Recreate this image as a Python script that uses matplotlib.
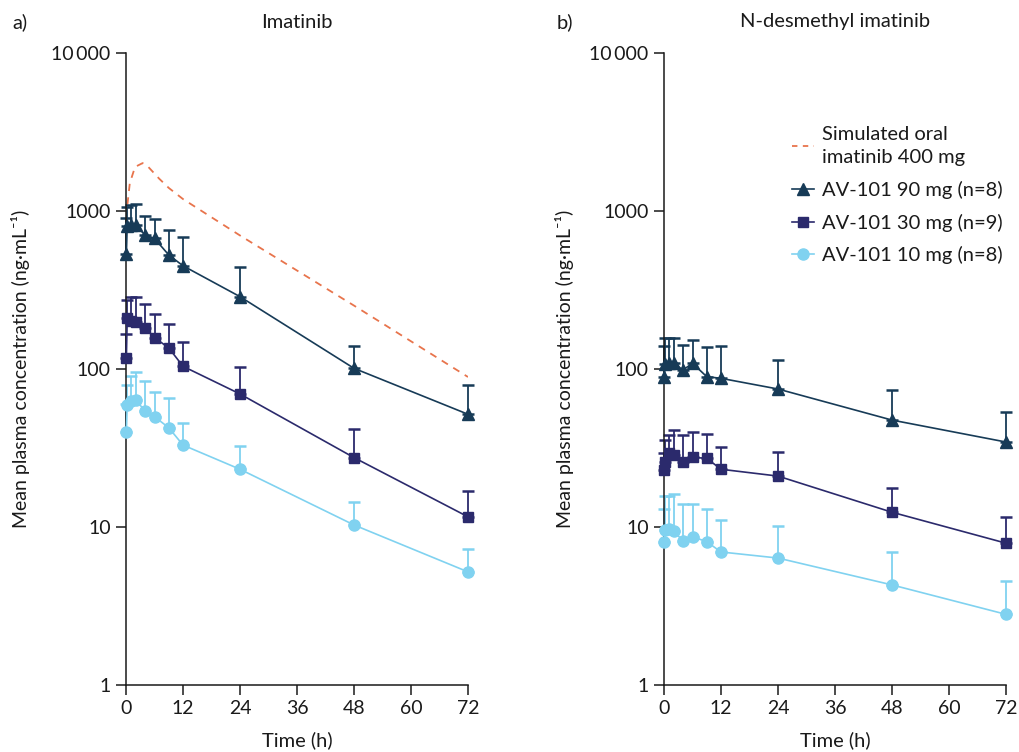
import matplotlib
matplotlib.use("Agg")
import matplotlib.pyplot as plt
from matplotlib.lines import Line2D
import numpy as np

plt.rcParams['font.family'] = ['Lato', 'DejaVu Sans']

# ---------------- data ----------------
times = [0.08, 0.25, 1, 2, 4, 6, 9, 12, 24, 48, 72]

# Imatinib (panel a)
ima_90_mean = [534, 807, 820, 815, 705, 670, 527, 450, 287, 101, 51.7]
ima_90_upper = [900, 1064, 1090, 1106, 930, 888, 758, 682, 444, 140, 79]
ima_30_mean = [118, 209, 202, 198, 183, 158, 136, 104, 69.5, 27.5, 11.6]
ima_30_upper = [167, 273, 286, 286, 257, 222, 192, 149, 102.5, 41.7, 17]
ima_10_mean = [39.7, 59.2, 63, 63.6, 54.5, 49.9, 42.5, 33, 23.2, 10.3, 5.2]
ima_10_upper = [60, 79.2, 90.7, 96, 84, 71.8, 65.8, 45.7, 32.6, 14.5, 7.25]

sim_t = [0.3, 0.8, 1.9, 3.5, 4.7, 7, 9, 12, 24, 48, 72]
sim_v = [1100, 1500, 1900, 2010, 1900, 1600, 1400, 1190, 700, 252, 89]

# N-desmethyl imatinib (panel b)
nd_90_mean = [89.4, 108, 108.7, 108.7, 98.6, 108.7, 89.4, 87.3, 74.7, 47.5, 34.5]
nd_90_upper = [140, 156, 156, 156, 142, 153, 137, 140, 114, 73.6, 53.4]
nd_30_mean = [22.9, 25.9, 29.3, 28.5, 25.9, 27.6, 27.2, 23.2, 21, 12.4, 7.9]
nd_30_upper = [29.5, 35.5, 38.2, 41.1, 38, 40.1, 38.8, 32.2, 29.9, 17.6, 11.6]
nd_10_mean = [8.07, 9.6, 9.67, 9.48, 8.15, 8.68, 8.07, 6.95, 6.36, 4.3, 2.8]
nd_10_upper = [13, 15.8, 15.8, 16.2, 14, 14, 13, 11.1, 10.1, 6.95, 4.55]

x_ticks = [0, 12, 24, 36, 48, 60, 72]
y_ticks = [1, 10, 100, 1000, 10000]
y_ticklabels = ['1', '10', '100', '1000', '10\u2009000']

labels = ['AV-101 90 mg (n=8)', 'AV-101 30 mg (n=9)', 'AV-101 10 mg (n=8)']
sim_label = 'Simulated oral\nimatinib 400 mg'

# ---------------- style ----------------
c90 = '#173b57'
c30 = '#2b2a6c'
c10 = '#80d2f0'
csim = '#e8744c'
markers = ['^', 's', 'o']
msizes = [8, 6.8, 8]
colors = [c90, c30, c10]
tc = '#1a1a1a'

W, H = 1019, 752
fig = plt.figure(figsize=(W / 100, H / 100), dpi=100)

def px_axes(left, right, top, bottom):
    return fig.add_axes([left / W, 1 - bottom / H, (right - left) / W, (bottom - top) / H])

ax_a = px_axes(126, 468, 53, 685)
ax_b = px_axes(664, 1006, 53, 685)

def draw(ax, series):
    for (mean, upper), col, mk, ms in zip(series, colors, markers, msizes):
        mean = np.array(mean, dtype=float)
        upper = np.array(upper, dtype=float)
        err = [np.zeros_like(mean), upper - mean]
        ax.errorbar(times, mean, yerr=err, fmt='none', ecolor=col, elinewidth=1.3,
                    capsize=4.5, capthick=1.8, clip_on=False, zorder=2)
        ax.plot(times, mean, color=col, lw=1.2, marker=mk, ms=ms, mec=col, mfc=col,
                clip_on=False, zorder=3)

def style(ax):
    ax.set_yscale('log')
    ax.set_xlim(0, 72)
    ax.set_ylim(1, 10000)
    ax.set_xticks(x_ticks)
    ax.set_xticklabels([str(t) for t in x_ticks])
    ax.set_yticks(y_ticks)
    ax.set_yticklabels(y_ticklabels)
    ax.yaxis.set_minor_locator(matplotlib.ticker.NullLocator())
    for s in ['top', 'right']:
        ax.spines[s].set_visible(False)
    for s in ['left', 'bottom']:
        ax.spines[s].set_linewidth(1.1)
        ax.spines[s].set_color(tc)
    ax.tick_params(axis='both', which='major', length=7, width=1.1, color=tc,
                   labelsize=14, pad=4, labelcolor=tc)

draw(ax_a, [(ima_90_mean, ima_90_upper), (ima_30_mean, ima_30_upper), (ima_10_mean, ima_10_upper)])
ax_a.plot(sim_t, sim_v, color=csim, lw=1.3, ls=(0, (4, 3.5)), zorder=1)
draw(ax_b, [(nd_90_mean, nd_90_upper), (nd_30_mean, nd_30_upper), (nd_10_mean, nd_10_upper)])
style(ax_a)
style(ax_b)

# legend
handles = [Line2D([], [], color=csim, lw=1.3, ls=(0, (3, 3)))]
for col, mk, ms in zip(colors, markers, msizes):
    handles.append(Line2D([], [], color=col, lw=1.2, marker=mk, ms=ms, mec=col, mfc=col))
leg = ax_b.legend(handles, [sim_label] + labels, loc='upper left', bbox_to_anchor=(0.35, 0.897),
                  frameon=False, fontsize=14.5, handlelength=1.1, handletextpad=0.4,
                  labelspacing=0.72, borderaxespad=0)
for t in leg.get_texts():
    t.set_linespacing(1.45)
    t.set_color(tc)

# texts
fs = 14.5
fig.text(12 / W, 1 - 22 / H, 'a)', fontsize=fs, va='center', ha='left', color=tc)
fig.text(297 / W, 1 - 22 / H, 'Imatinib', fontsize=fs, va='center', ha='center', color=tc)
fig.text(557 / W, 1 - 22 / H, 'b)', fontsize=fs, va='center', ha='left', color=tc)
fig.text(835 / W, 1 - 22 / H, 'N-desmethyl imatinib', fontsize=fs, va='center', ha='center', color=tc)
ylab = 'Mean plasma concentration (ng\u00b7mL\u207b\u00b9)'
fig.text(21 / W, 1 - 369 / H, ylab, fontsize=14, rotation=90, va='center', ha='center', color=tc)
fig.text(565 / W, 1 - 369 / H, ylab, fontsize=14, rotation=90, va='center', ha='center', color=tc)
fig.text(297 / W, 1 - 740 / H, 'Time (h)', fontsize=fs, va='center', ha='center', color=tc)
fig.text(835 / W, 1 - 740 / H, 'Time (h)', fontsize=fs, va='center', ha='center', color=tc)

fig.savefig('out.png', dpi=100)
